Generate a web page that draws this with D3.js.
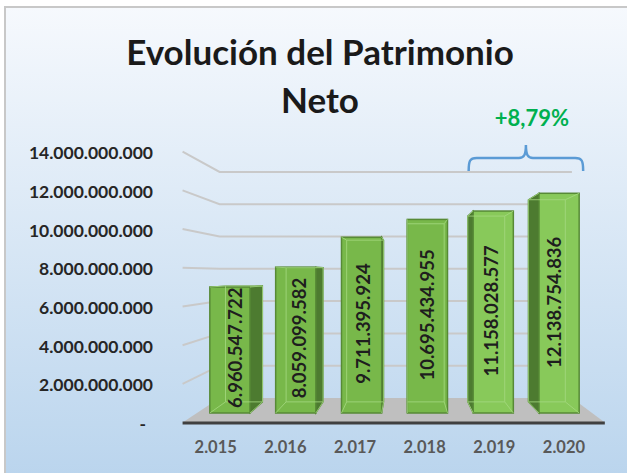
<!DOCTYPE html>
<html>
<head>
<meta charset="utf-8">
<script src="https://cdn.jsdelivr.net/npm/d3@7"></script>
<style>
  html, body { margin: 0; padding: 0; background: #fff; }
  svg { display: block; font-family: Lato, 'Open Sans', sans-serif; }
</style>
</head>
<body>
<svg id="chart" width="627" height="473"></svg>
<script>
// Values.
const years      = [ 2015, 2016, 2017, 2018, 2019, 2020 ];
const values     = [ 6960547722, 8059099582, 9711395924, 10695434955, 11158028577, 12138754836 ];
const yTicks     = [ 0, 2e9, 4e9, 6e9, 8e9, 10e9, 12e9, 14e9 ];
const titleLines = [ 'Evolución del Patrimonio', 'Neto' ];

// Spanish number format: dots for thousands, comma for decimals.
const es   = d3.formatLocale( { decimal: ',', thousands: '.', grouping: [ 3 ], currency: [ '', ' €' ] } );
const fmt  = es.format( ',d' );
const pct  = es.format( '+.2%' );

const svg  = d3.select( '#chart' );
const defs = svg.append( 'defs' );

// Background gradient of the chart area.
const bg = defs.append( 'linearGradient' ).attr( 'id', 'bg' )
  .attr( 'x1', 0 ).attr( 'y1', 0 ).attr( 'x2', 0 ).attr( 'y2', 1 );
bg.append( 'stop' ).attr( 'offset', '0%'   ).attr( 'stop-color', '#f6f9fd' );
bg.append( 'stop' ).attr( 'offset', '100%' ).attr( 'stop-color', '#b9d4ed' );

svg.append( 'rect' )
  .attr( 'x', 5 ).attr( 'y', 7 ).attr( 'width', 640 ).attr( 'height', 480 )
  .attr( 'fill', 'url(#bg)' ).attr( 'stroke', '#c8c8c8' ).attr( 'stroke-width', 2 );

// Scales on the plane of the bars' front faces.
const x = d3.scaleBand( )
  .domain( years )
  .range( [ 197, 592 ] )
  .paddingInner( 0.39 )
  .paddingOuter( 0.195 );
const y = d3.scaleLinear( )
  .domain( [ 0, 14e9 ] )
  .range( [ 413, 159.6 ] );

// Simple perspective: every depth plane is the front plane scaled toward a vanishing point.
const vp    = { x: 406, y: 274 };
const depth = { front: 1.069, bars: 1, barBack: 0.92, wall: 0.892, text: 0.97, cat: 1.058 };
const proj  = ( px, py, s ) => [ vp.x + ( px - vp.x ) * s, vp.y + ( py - vp.y ) * s ];
const [ x0, x1 ] = x.range( );
const bw = x.bandwidth( );

// Floor.
const floor = [
  proj( x0, y( 0 ), depth.front ), proj( x1, y( 0 ), depth.front ),
  proj( x1, y( 0 ), depth.wall  ), proj( x0, y( 0 ), depth.wall  )
];
svg.append( 'polygon' )
  .attr( 'points', floor.map( p => p.join( ',' ) ).join( ' ' ) )
  .attr( 'fill', '#bfbfbf' );
svg.append( 'line' )
  .attr( 'x1', floor[ 0 ][ 0 ] ).attr( 'y1', floor[ 0 ][ 1 ] + 0.5 )
  .attr( 'x2', floor[ 1 ][ 0 ] ).attr( 'y2', floor[ 1 ][ 1 ] + 0.5 )
  .attr( 'stroke', '#404040' ).attr( 'stroke-width', 3 );

// Gridlines on the back wall and on the left wall.
const grid = svg.append( 'g' ).attr( 'fill', 'none' ).attr( 'stroke', '#c9c9c9' ).attr( 'stroke-width', 2 );
yTicks.filter( t => t > 0 ).forEach( t => {
  const a = proj( x0, y( t ), depth.front );
  const b = proj( x0, y( t ), depth.wall  );
  const c = proj( x1, y( t ), depth.wall  );
  grid.append( 'polyline' ).attr( 'points', [ a, b, c ].map( p => p.join( ',' ) ).join( ' ' ) );
} );

// Y axis labels sit on the front edge of the floor.
svg.append( 'g' )
  .selectAll( 'text' ).data( yTicks ).join( 'text' )
  .attr( 'x', t => t === 0 ? 146 : 153 )
  .attr( 'y', t => proj( x0, y( t ), depth.front )[ 1 ] + 1 )
  .attr( 'text-anchor', 'end' )
  .attr( 'dominant-baseline', 'central' )
  .attr( 'font-size', 17.5 ).attr( 'font-weight', 700 ).attr( 'fill', '#262626' )
  .text( t => t === 0 ? '-' : fmt( t ) );

// Bars as see-through boxes.
const bars = years.map( ( yr, i ) => ( { year: yr, value: values[ i ] } ) );
const pts  = arr => arr.map( p => p.join( ',' ) ).join( ' ' );
const gBar = svg.append( 'g' );

bars.forEach( d => {
  const xl = x( d.year ), xr = xl + bw, yt = y( d.value ), yb = y( 0 );
  const s  = depth.barBack;
  const g  = gBar.append( 'g' );
  const leftOfVp = xl + bw / 2 < vp.x;

  // visible side face
  const side = leftOfVp
    ? [ [ xr, yt ], proj( xr, yt, s ), proj( xr, yb, s ), [ xr, yb ] ]
    : [ [ xl, yt ], proj( xl, yt, s ), proj( xl, yb, s ), [ xl, yb ] ];
  g.append( 'polygon' ).attr( 'points', pts( side ) )
    .attr( 'fill', '#4d7b30' ).attr( 'stroke', '#4a7a2c' ).attr( 'stroke-width', 1.2 );

  // top face, only when it is below the eye line
  if ( yt > vp.y ) {
    g.append( 'polygon' )
      .attr( 'points', pts( [ [ xl, yt ], [ xr, yt ], proj( xr, yt, s ), proj( xl, yt, s ) ] ) )
      .attr( 'fill', '#8fcd62' ).attr( 'stroke', '#4a7a2c' ).attr( 'stroke-width', 1 );
  }

  // front face
  g.append( 'rect' )
    .attr( 'x', xl ).attr( 'y', yt ).attr( 'width', bw ).attr( 'height', yb - yt )
    .attr( 'fill', d.year >= 2019 ? '#88c95a' : '#78b84a' )
    .attr( 'stroke', '#578a36' ).attr( 'stroke-width', 1.5 );

  // back edges seen through the front
  const bl = proj( xl, yt, s ), br = proj( xr, yt, s ), bbl = proj( xl, yb, s ), bbr = proj( xr, yb, s );
  const inner = g.append( 'g' ).attr( 'fill', 'none' ).attr( 'stroke', '#a6da82' )
    .attr( 'stroke-width', 1 ).attr( 'opacity', 0.8 );
  inner.append( 'polygon' ).attr( 'points', pts( [ bl, br, bbr, bbl ] ) );
  [ [ [ xl, yt ], bl ], [ [ xr, yt ], br ], [ [ xl, yb ], bbl ], [ [ xr, yb ], bbr ] ]
    .forEach( ( [ a, b ] ) => inner.append( 'line' )
      .attr( 'x1', a[ 0 ] ).attr( 'y1', a[ 1 ] ).attr( 'x2', b[ 0 ] ).attr( 'y2', b[ 1 ] ) );

  // value label
  const c = proj( xl + bw / 2, ( yt + yb ) / 2, depth.text );
  g.append( 'text' )
    .attr( 'transform', `translate(${c[ 0 ]},${c[ 1 ]}) rotate(-90)` )
    .attr( 'text-anchor', 'middle' )
    .attr( 'dominant-baseline', 'central' )
    .attr( 'font-size', 18.5 ).attr( 'font-weight', 700 ).attr( 'fill', '#1e1e1e' )
    .text( fmt( d.value ) );
} );

// Category labels.
svg.append( 'g' )
  .selectAll( 'text' ).data( years ).join( 'text' )
  .attr( 'x', yr => proj( x( yr ) + bw / 2, y( 0 ), depth.cat )[ 0 ] - 4 )
  .attr( 'y', 447 )
  .attr( 'text-anchor', 'middle' )
  .attr( 'dominant-baseline', 'central' )
  .attr( 'font-size', 16.5 ).attr( 'font-weight', 700 ).attr( 'fill', '#595959' )
  .text( yr => fmt( yr ) );

// Title.
svg.append( 'text' )
  .attr( 'x', 320 ).attr( 'y', 65 )
  .attr( 'text-anchor', 'middle' )
  .attr( 'font-size', 35 ).attr( 'font-weight', 700 ).attr( 'fill', '#1a1a1a' )
  .selectAll( 'tspan' ).data( titleLines ).join( 'tspan' )
    .attr( 'x', 320 )
    .attr( 'dy', ( d, i ) => i === 0 ? 0 : 48 )
    .text( d => d );

// Bracket over the last two years with the growth rate.
const last = values.length - 1;
const bL = x( years[ last - 1 ] ) - 4.5;
const bR = x( years[ last ] ) + bw + 4;
const bM = ( bL + bR ) / 2;
const yEnd = 171, yBar = 158, yTip = 145;
svg.append( 'path' )
  .attr( 'd', `M${bL},${yEnd} C${bL},${yBar + 3} ${bL + 1},${yBar} ${bL + 8},${yBar}
    L${bM - 7},${yBar} C${bM - 2},${yBar} ${bM},${yBar - 3} ${bM},${yTip}
    C${bM},${yBar - 3} ${bM + 2},${yBar} ${bM + 7},${yBar}
    L${bR - 8},${yBar} C${bR - 1},${yBar} ${bR},${yBar + 3} ${bR},${yEnd}` )
  .attr( 'fill', 'none' ).attr( 'stroke', '#5b9bd5' ).attr( 'stroke-width', 2.5 );

svg.append( 'text' )
  .attr( 'x', bM + 6 ).attr( 'y', 126 )
  .attr( 'text-anchor', 'middle' )
  .attr( 'font-size', 22 ).attr( 'font-weight', 700 ).attr( 'fill', '#00b050' )
  .text( pct( values[ last ] / values[ last - 1 ] - 1 ) );
</script>
</body>
</html>
